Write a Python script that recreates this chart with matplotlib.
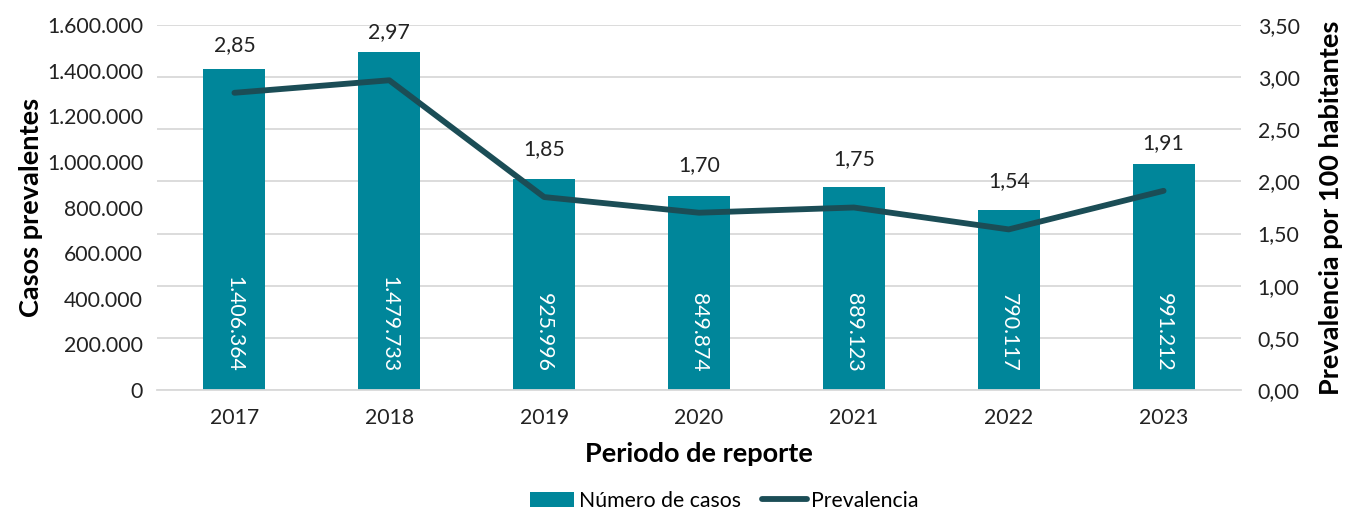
import matplotlib
matplotlib.use("Agg")
import matplotlib.pyplot as plt
from matplotlib.ticker import FuncFormatter, MultipleLocator
import numpy as np

years = ["2017", "2018", "2019", "2020", "2021", "2022", "2023"]
casos = [1406364, 1479733, 925996, 849874, 889123, 790117, 991212]
prevalencia = [2.85, 2.97, 1.85, 1.70, 1.75, 1.54, 1.91]

BAR_C = "#00869A"
LINE_C = "#1B4D56"
plt.rcParams['font.family'] = ['Lato', 'DejaVu Sans']

def miles(v):
    return f"{int(round(v)):,}".replace(",", ".")

fig = plt.figure(figsize=(13.46, 5.12), dpi=100)
ax = fig.add_axes([157/1346, 1-390/512, (1241-157)/1346, (390-25)/512])
ax2 = ax.twinx()
x = np.arange(len(years))

bars = ax.bar(x, casos, width=0.4, color=BAR_C, zorder=2, label="Número de casos")
ax.set_ylim(0, 1600000)
ax.set_xlim(-0.5, len(years)-0.5)
ax.yaxis.set_major_locator(MultipleLocator(200000))
ax.yaxis.set_major_formatter(FuncFormatter(lambda v, p: miles(v)))
for xi, v in zip(x, casos):
    ax.annotate(miles(v), (xi, 0), xytext=(0, 18), textcoords="offset pixels",
                rotation=-90, ha="center", va="bottom", color="white", fontsize=15.3)

ax2.set_ylim(0, 3.5)
ax2.yaxis.set_major_locator(MultipleLocator(0.5))
ax2.yaxis.set_major_formatter(FuncFormatter(lambda v, p: f"{v:.2f}".replace(".", ",")))
for xi, v in zip(x, prevalencia):
    ax.annotate(f"{v:.2f}".replace(".", ","), (xi, v/3.5*1600000), xytext=(0, 48), textcoords="offset pixels",
                ha="center", va="center", color="#222222", fontsize=15.3)

ax2.grid(axis="y", color="#D9D9D9", lw=1.3, zorder=0)
ax2.set_axisbelow(True)
ax.set_zorder(ax2.get_zorder()+1)
ax.patch.set_visible(False)
for a in (ax, ax2):
    for s in a.spines.values():
        s.set_visible(False)
    a.tick_params(length=0, labelsize=15.3, colors="#222222")
ax.spines["bottom"].set_visible(True)
ax.spines["bottom"].set_color("#D9D9D9")
ax.spines["bottom"].set_linewidth(1.3)
ax.set_xticks(x)
ax.set_xticklabels(years)
ax.tick_params(axis="x", pad=13)
ax.tick_params(axis="y", pad=10)
ax2.tick_params(axis="y", pad=12)

ax.set_ylabel("Casos prevalentes", fontsize=19.5, fontweight="bold", labelpad=3)
ax2.set_ylabel("Prevalencia por 100 habitantes", fontsize=19.5, fontweight="bold", labelpad=14)
ax.set_xlabel("Periodo de reporte", fontsize=19.5, fontweight="bold", labelpad=10)

line, = ax.plot(x, np.array(prevalencia)/3.5*1600000, color=LINE_C, lw=4.2,
                solid_capstyle="round", zorder=3, label="Prevalencia")

fig.legend([bars, line], ["Número de casos", "Prevalencia"], loc="lower center",
           bbox_to_anchor=(724/1346, -0.035), ncol=2, frameon=False,
           fontsize=15.3, handlelength=2.1, handletextpad=0.2, columnspacing=1.0)

fig.savefig("out.png", dpi=100)
